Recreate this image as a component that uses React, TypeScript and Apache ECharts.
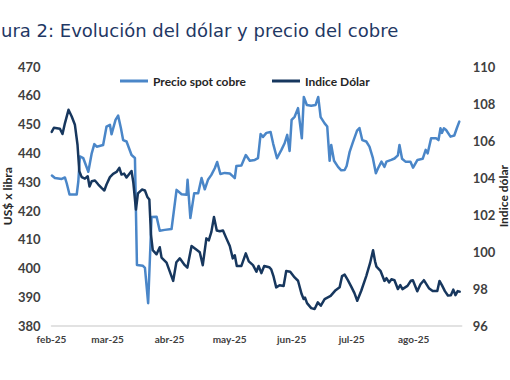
import React, { useEffect, useRef } from "react";
import * as echarts from "echarts";

// Days counted from 1 Feb 2025
const monthStartDay = [0, 28, 59, 89, 120, 150, 181];
const monthLabels = ["feb-25", "mar-25", "abr-25", "may-25", "jun-25", "jul-25", "ago-25"];

const copperDay = [
  0.2, 1.7, 5.1, 6.7, 7.6, 9.0, 12.6, 13.4, 14.2, 15.9, 18.4, 20.1, 21.4, 22.6, 25.8, 27.5, 29.2, 30.0, 32.0, 33.3,
  34.7, 35.8, 37.5, 40.0, 41.7, 42.7, 45.7, 46.7, 48.3, 50.0, 52.5, 54.1, 56.6, 60.0, 62.5, 65.0, 67.5, 68.0, 69.4, 71.3,
  73.3, 75.0, 76.6, 78.2, 79.9, 81.6, 82.8, 84.4, 86.6, 89.1, 90.7, 91.6, 92.4, 94.9, 97.1, 99.1, 101.6, 103.2, 104.5, 105.7,
  107.4, 109.5, 110.8, 112.7, 114.9, 116.5, 117.8, 119.0, 120.0, 121.5, 123.2, 125.1, 126.1, 127.6, 129.8, 132.0, 133.3, 134.5, 136.5, 137.8,
  139.0, 139.8, 141.2, 143.2, 144.8, 146.5, 147.5, 149.0, 150.6, 152.7, 153.9, 155.3, 157.3, 158.9, 160.6, 162.1, 163.2, 164.9, 166.4, 167.4,
  169.8, 171.4, 173.1, 173.9, 175.2, 176.9, 179.4, 180.7, 182.9, 185.5, 187.0, 188.0, 189.7, 192.2, 193.4, 194.4, 195.1, 196.1, 197.2, 199.4,
  201.3, 202.6, 203.8,
];
const copperPrice = [
  432.2, 431.3, 431.0, 431.5, 429.5, 425.6, 425.6, 430.1, 438.8, 438.2, 433.5, 439.9, 443.1, 442.2, 442.8, 449.2, 449.8, 446.5, 451.5, 453.0,
  448.6, 444.5, 444.0, 439.3, 438.3, 401.1, 400.8, 400.1, 387.8, 417.8, 417.9, 413.0, 413.3, 413.6, 427.2, 425.7, 425.5, 430.7, 417.4, 426.0,
  426.0, 431.3, 427.4, 430.7, 432.4, 434.7, 436.9, 432.7, 433.1, 432.9, 431.9, 431.3, 435.5, 435.7, 439.3, 437.3, 437.6, 438.2, 446.6, 445.6,
  447.0, 447.3, 443.2, 438.2, 441.1, 443.4, 446.3, 440.7, 451.5, 452.6, 455.6, 445.1, 459.5, 456.7, 456.4, 456.7, 459.5, 452.5, 450.3, 449.2,
  437.3, 442.8, 437.3, 435.2, 434.0, 434.1, 435.5, 440.4, 443.7, 447.8, 448.7, 444.5, 444.0, 442.2, 438.3, 433.0, 434.7, 437.0, 435.2, 437.0,
  437.6, 438.1, 439.2, 442.8, 438.0, 437.0, 437.0, 434.9, 437.6, 438.0, 441.1, 439.9, 445.1, 445.1, 444.5, 448.6, 447.0, 448.6, 448.0, 445.7,
  446.1, 448.7, 450.9,
];

const dollarDay = [
  0.1, 1.2, 4.2, 5.5, 6.7, 8.5, 10.1, 11.7, 13.0, 13.9, 15.1, 16.7, 18.1, 19.0, 20.1, 21.7, 23.4, 25.0, 26.4, 27.5,
  29.2, 30.8, 32.5, 33.9, 35.0, 36.3, 37.5, 40.0, 40.9, 42.2, 43.2, 45.2, 46.7, 47.9, 48.9, 49.7, 50.6, 52.5, 54.1, 55.0,
  57.5, 60.8, 62.4, 64.1, 66.6, 67.9, 70.0, 72.5, 74.1, 75.6, 77.4, 78.6, 79.9, 81.2, 82.6, 84.1, 85.7, 87.4, 89.1, 90.6,
  91.6, 92.6, 94.9, 97.1, 98.6, 100.7, 102.4, 103.5, 104.9, 106.3, 108.8, 109.8, 111.0, 112.3, 114.0, 116.0, 117.3, 119.3, 121.5, 123.2,
  125.0, 126.0, 126.7, 127.7, 129.8, 131.5, 133.1, 134.6, 136.5, 139.5, 142.0, 144.0, 145.2, 146.5, 148.1, 149.8, 151.4, 152.8, 154.8, 157.3,
  159.2, 160.7, 161.7, 162.4, 164.4, 166.4, 167.4, 168.7, 169.9, 171.4, 173.1, 174.3, 175.4, 177.9, 179.6, 180.6, 182.8, 184.4, 186.1, 188.6,
  190.5, 192.8, 193.9, 195.1, 196.6, 198.1, 199.6, 200.8, 201.9, 203.0, 204.0,
];
const dollarIndex = [
  106.48, 106.7, 106.65, 106.36, 106.94, 107.67, 107.31, 106.86, 105.78, 104.35, 104.03, 103.95, 104.08, 103.52, 103.81, 103.85, 103.63, 103.45, 103.31, 103.63,
  104.03, 104.21, 104.31, 104.53, 104.17, 104.22, 104.01, 104.36, 103.74, 102.28, 103.15, 103.36, 103.31, 102.96, 102.82, 100.94, 100.08, 99.86, 100.24, 99.68,
  99.41, 98.42, 99.43, 99.64, 99.27, 99.14, 100.31, 100.1, 99.97, 99.27, 100.72, 100.61, 101.07, 101.88, 101.15, 101.11, 101.15, 100.72, 100.31, 99.64,
  99.81, 99.23, 99.23, 99.91, 99.48, 99.27, 98.92, 99.23, 98.84, 99.23, 99.16, 99.05, 98.65, 98.07, 98.19, 98.15, 98.96, 98.92, 98.61, 98.43,
  97.71, 97.44, 97.52, 97.22, 96.95, 96.9, 97.26, 97.08, 97.44, 97.61, 97.92, 98.08, 98.68, 98.76, 98.46, 98.11, 97.76, 97.35, 97.89, 98.68,
  99.38, 100.08, 99.48, 99.19, 98.97, 98.42, 98.57, 98.34, 98.51, 98.46, 97.98, 98.19, 97.98, 98.15, 98.43, 98.46, 97.86, 98.24, 98.46, 98.03,
  97.88, 97.88, 98.42, 98.19, 97.87, 97.63, 97.65, 97.95, 97.65, 97.87, 97.84,
];

const copperTicks = { min: 380, max: 470, step: 10 };
const dollarTicks = { min: 96, max: 110, step: 2 };

const titleText = "ura 2: Evolución del dólar y precio del cobre";

export default function App() {
  const ref = useRef<HTMLDivElement>(null);
  useEffect(() => {
    if (!ref.current) return;
    const chart = echarts.init(ref.current, undefined, { renderer: "svg" });
    const labelFont = { fontFamily: "Lato", fontWeight: "bold" as const, color: "#404040" };
    const nameFont = { fontFamily: "Lato", fontWeight: "bold" as const, fontSize: 12, color: "#262626" };
    chart.setOption({
      animation: false,
      backgroundColor: "#ffffff",
      title: {
        text: titleText,
        left: 1,
        top: 21,
        padding: 0,
        textStyle: { fontFamily: "DejaVu Sans", fontSize: 18, fontWeight: "normal", color: "#1F3864" },
      },
      legend: {
        left: 115,
        top: 70,
        itemWidth: 28,
        itemHeight: 3,
        itemGap: 26,
        icon: "rect",
        textStyle: { fontFamily: "Lato", fontWeight: "bold", fontSize: 12, color: "#262626" },
        data: ["Precio spot cobre", "Indice Dólar"],
      },
      grid: {
        left: 51.5,
        right: 48.3,
        top: 66.7,
        bottom: 380 - 325.7,
        containLabel: false,
        outerBoundsMode: "none",
      },
      xAxis: {
        type: "value",
        min: 0,
        max: 205,
        axisLine: { show: true, lineStyle: { color: "#D9D9D9", width: 1.5 } },
        axisTick: { show: false },
        splitLine: { show: false },
        axisLabel: {
          customValues: monthStartDay,
          margin: 8,
          fontSize: 10,
          ...labelFont,
          formatter: (v: number) => {
            const i = monthStartDay.indexOf(v);
            return i >= 0 ? monthLabels[i] : "";
          },
        },
      },
      yAxis: [
        {
          type: "value",
          min: copperTicks.min,
          max: copperTicks.max,
          interval: copperTicks.step,
          name: "US$ x libra",
          nameLocation: "middle",
          nameGap: 38,
          nameMoveOverlap: false,
          nameTextStyle: nameFont,
          axisLine: { show: false },
          axisTick: { show: false },
          splitLine: { show: false },
          axisLabel: { fontSize: 13, margin: 11, ...labelFont },
        },
        {
          type: "value",
          min: dollarTicks.min,
          max: dollarTicks.max,
          interval: dollarTicks.step,
          name: "Indice dólar",
          nameLocation: "middle",
          nameGap: 36,
          nameMoveOverlap: false,
          nameTextStyle: nameFont,
          axisLine: { show: false },
          axisTick: { show: false },
          splitLine: { show: false },
          axisLabel: { fontSize: 13, margin: 11, ...labelFont },
        },
      ],
      series: [
        {
          name: "Precio spot cobre",
          type: "line",
          yAxisIndex: 0,
          symbol: "none",
          color: "#4A86C8",
          lineStyle: { width: 2.5, color: "#4A86C8", join: "round", cap: "round" },
          data: copperDay.map((d, i) => [d, copperPrice[i]]),
        },
        {
          name: "Indice Dólar",
          type: "line",
          yAxisIndex: 1,
          symbol: "none",
          color: "#17375E",
          lineStyle: { width: 2.5, color: "#17375E", join: "round", cap: "round" },
          data: dollarDay.map((d, i) => [d, dollarIndex[i]]),
        },
      ],
    });
    return () => chart.dispose();
  }, []);
  return (
    <div
      ref={ref}
      style={{ position: "fixed", left: 0, top: 0, width: 510, height: 380, background: "#fff" }}
    />
  );
}
